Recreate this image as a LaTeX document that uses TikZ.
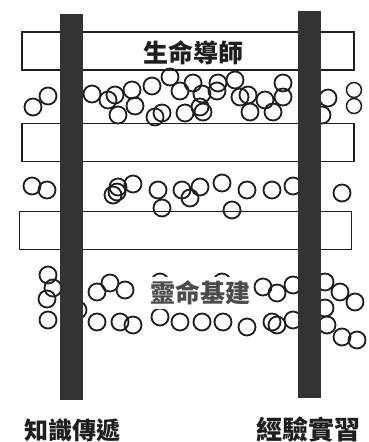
\documentclass[tikz,border=0pt]{standalone}
\usepackage{fontspec}
\setmainfont{Noto Sans CJK TC}
\usetikzlibrary{positioning}
\definecolor{pillar}{HTML}{333333}
\definecolor{ink}{HTML}{1E1E1E}
\tikzset{
  band/.style={draw=ink, line width=1.3pt, minimum width=332pt, minimum height=38pt, inner sep=0pt},
  pillarbox/.style={fill=pillar, minimum width=23pt, inner sep=0pt},
  ball/.style={draw=ink, line width=1.8pt},
  caption/.style={text=ink, font=\bfseries\fontsize{25}{25}\selectfont, inner sep=0pt}
}
\begin{document}
\begin{tikzpicture}[x=1pt,y=-1pt]
\useasboundingbox (0,0) rectangle (369,442);
% the three bands
\node[band] (top)    at (188,51)  {};
\node[band] (middle) at (188,142.5) {};
\node[band] (low)    at (185.5,230.5) {};
\node[caption] (mentor) at (193,53) {生命導師};

% loose balls between the bands
\foreach \x/\y in {33/107,48/96,92/94,108/100,115/95,118/115,132/90,135/106,
  152/86,155/117,162/113,170/77,180/91,185/113,193/83,200/107,203/112,202/94,
  218/83,217/91,235/80,240/97,248/95,250/112,265/100,273/112,283/83,283/97,
  322/115,328/98}
  \draw[ball] (\x,\y) circle (8.5);
\draw[ball, line width=1.5pt] (354,90) circle (7.5);
\draw[ball, line width=1.5pt] (354,106) circle (7.5);

\foreach \x/\y in {32/186,47/190,113/195,117/192,118/187,133/184,158/190,162/208,
  182/190,190/198,200/187,222/183,232/210,247/190,272/190,293/186,342/193}
  \draw[ball] (\x,\y) circle (8.5);

\foreach \x/\y in {48/275,53/288,47/299,48/320,78/310,97/292,110/283,125/290,
  97/322,120/322,133/325,160/317,180/322,202/322,223/322,160/282,222/282,
  247/327,263/287,277/293,293/285,277/325,272/322,293/320,
  325/282,340/292,355/302,325/308,327/325,342/337,357/340}
  \draw[ball] (\x,\y) circle (8.5);

\node[caption, fill=white, text=ink!80, inner xsep=3pt, inner ysep=4pt] (base) at (200,293) {靈命基建};

% the two pillars
\node[pillarbox, minimum height=386pt] (knowledge)  at (71.5,207) {};
\node[pillarbox, minimum height=387pt] (experience) at (309,204.5) {};

\node[caption, anchor=south, font=\bfseries\fontsize{24}{24}\selectfont] (teach)    at (72,442)  {知識傳遞};
\node[caption, anchor=south, font=\bfseries\fontsize{26}{26}\selectfont] (practice) at (308,442) {經驗實習};
\end{tikzpicture}
\end{document}
